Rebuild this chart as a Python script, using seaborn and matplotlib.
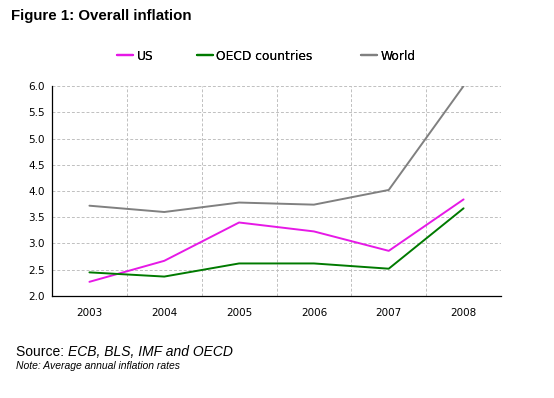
import numpy as np
import pandas as pd
import seaborn as sns
import matplotlib.pyplot as plt
from matplotlib.lines import Line2D

# Chart data
years = ["2003", "2004", "2005", "2006", "2007", "2008"]
us = [2.27, 2.67, 3.40, 3.23, 2.86, 3.84]
oecd = [2.45, 2.37, 2.62, 2.62, 2.52, 3.67]
world = [3.72, 3.60, 3.78, 3.74, 4.02, 6.00]
series_names = ["US", "OECD countries", "World"]
colors = ["#E619E6", "#007A00", "#808080"]

df = pd.DataFrame({
    "pos": list(range(len(years))) * 3,
    "value": us + oecd + world,
    "series": [s for s in series_names for _ in years],
})

sns.set_style("white")
plt.rcParams["font.family"] = ["DejaVu Sans"]
plt.rcParams["text.color"] = "black"
plt.rcParams["xtick.color"] = "black"
plt.rcParams["ytick.color"] = "black"

fig = plt.figure(figsize=(5.54, 3.98), dpi=100)
ax = fig.add_axes([0.0939, 0.2563, 0.8104, 0.5276])

sns.lineplot(data=df, x="pos", y="value", hue="series", palette=colors,
             linewidth=1.4, ax=ax, legend=False)

n = len(years)
ax.set_xlim(-0.5, n - 0.5)
ax.set_ylim(2.0, 6.0)
ax.set_xticks(np.arange(-0.5, n, 1.0))
ax.set_xticklabels([])
ax.set_xticks(range(n), minor=True)
ax.set_xticklabels(years, minor=True)
ax.tick_params(axis="x", which="minor", length=0, pad=9, labelsize=7.5)
ax.tick_params(axis="x", which="major", length=4, direction="out", width=0.8)
ax.set_yticks(np.arange(2.0, 6.01, 0.5))
ax.set_yticklabels([f"{v:.1f}" for v in np.arange(2.0, 6.01, 0.5)])
ax.tick_params(axis="y", length=4, direction="out", width=0.8, labelsize=7.5, pad=1)
ax.set_xlabel("")
ax.set_ylabel("")
ax.grid(True, which="major", color="#C0C0C0", linestyle=(0, (3, 2)), linewidth=0.7)
for side in ["top", "right"]:
    ax.spines[side].set_visible(False)
for side in ["left", "bottom"]:
    ax.spines[side].set_color("black")
    ax.spines[side].set_linewidth(0.9)

# legend entries placed individually (uneven spacing in the original)
legend_x = [0.212, 0.356, 0.652]
for name, col, lx in zip(series_names, colors, legend_x):
    h = Line2D([], [], color=col, linewidth=1.6)
    leg = fig.legend([h], [name], loc="center left", bbox_to_anchor=(lx, 0.859),
                     frameon=False, fontsize=8.8, handlelength=1.3,
                     handletextpad=0.25, borderaxespad=0, borderpad=0)
    fig.add_artist(leg)

fig.text(0.02, 0.96, "Figure 1: Overall inflation", fontsize=10.8, fontweight="bold",
         family="Liberation Sans", va="center")
src = fig.text(0.029, 0.115, "Source: ", fontsize=10, family="Liberation Sans", va="center")
fig.canvas.draw()
bb = src.get_window_extent().transformed(fig.transFigure.inverted())
fig.text(bb.x1, 0.115, "ECB, BLS, IMF and OECD", fontsize=10, family="Liberation Sans",
         style="italic", va="center")
fig.text(0.029, 0.080, "Note: Average annual inflation rates", fontsize=7.5,
         family="Liberation Sans", style="italic", va="center")

fig.savefig("out.png", dpi=100)
